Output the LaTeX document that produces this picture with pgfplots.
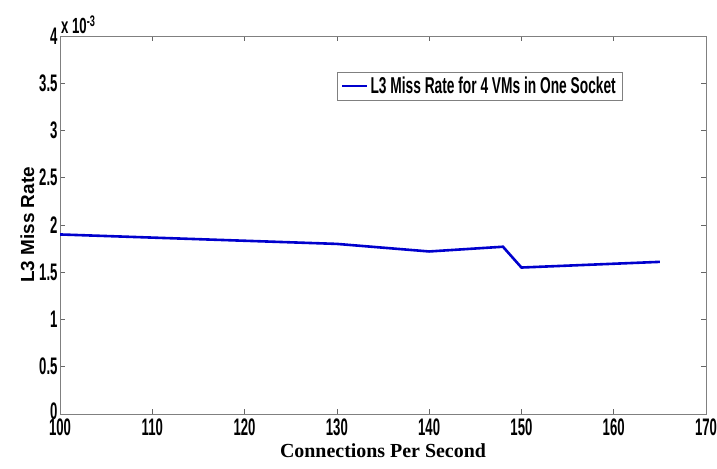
\documentclass[border=0pt]{standalone}
\usepackage{fontspec}
\setmainfont{Liberation Sans}
\newfontfamily\cond[FakeStretch=0.55]{Liberation Sans Bold}
\newfontfamily\condl[FakeStretch=0.6]{Liberation Sans Bold}
\newfontfamily\timesb{Liberation Serif Bold}
\newfontfamily\arialb{Liberation Sans Bold}
\usepackage{pgfplots}
\pgfplotsset{compat=1.18}
\begin{document}
\begin{tikzpicture}[x=1bp,y=1bp]
\begin{axis}[
  at={(0,0)}, anchor=south west,
  scale only axis,
  width=646bp, height=378bp,
  xmin=100, xmax=170, ymin=0, ymax=4,
  xtick={100,110,...,170},
  ytick={0,0.5,...,4},
  yticklabels={\raisebox{5bp}{0},0.5,1,1.5,2,2.5,3,3.5,4},
  axis line style={draw=black!50, line width=0.8bp},
  tick style={draw=black!60, line width=0.6bp},
  tick align=inside,
  major tick length=5bp,
  /pgf/number format/assume math mode=true,
  ticklabel style={font=\cond\fontsize{24}{24}\selectfont},
  yticklabel style={xshift=1bp},
  xticklabel style={yshift=-1bp},
  xlabel={\timesb\fontsize{20}{20}\selectfont Connections Per Second},
  ylabel={\arialb\fontsize{19}{19}\selectfont L3 Miss Rate},
  xlabel style={yshift=-1bp},
  ylabel style={yshift=-2bp},
  legend style={at={(0.429,0.905)}, anchor=north west, draw=black!50,
    font=\condl\fontsize{23}{23}\selectfont, inner xsep=4bp, inner ysep=3bp},
  legend cell align=left,
  legend image code/.code={\draw[line width=2.2bp] (0bp,0bp) -- (25bp,0bp);},
]
\addplot[color={rgb,255:red,0;green,0;blue,205}, line width=2.6bp] coordinates {
  (100,1.90) (130,1.80) (140,1.72) (148,1.77) (150,1.55) (165,1.61)
};
\addlegendentry{L3 Miss Rate for 4 VMs in One Socket}
\end{axis}
\node[anchor=south west, inner sep=0pt, font=\condl\fontsize{22}{22}\selectfont] at (1bp,380bp) {x 10\textsuperscript{-3}};
\pgfresetboundingbox
\path (-60bp,-55bp) rectangle (657bp,414bp);
\end{tikzpicture}
\end{document}
